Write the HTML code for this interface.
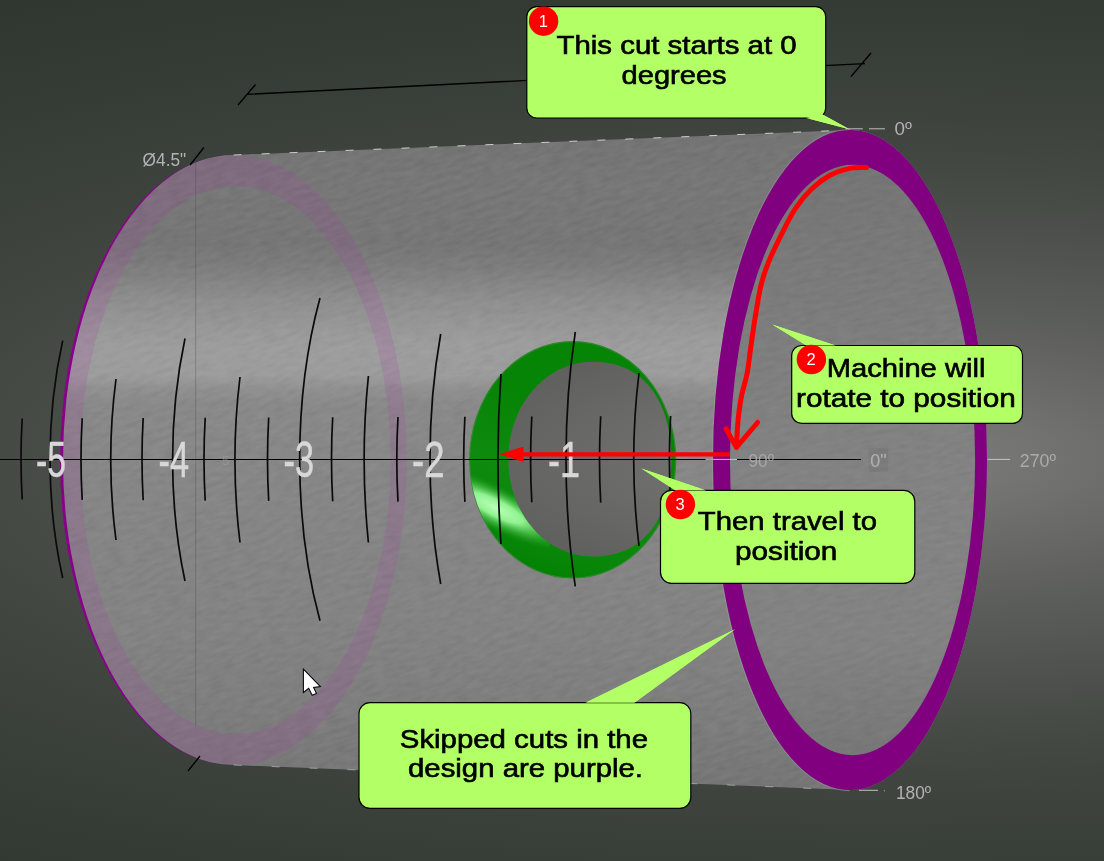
<!DOCTYPE html>
<html><head><meta charset="utf-8"><title>Cut sequence</title><style>html,body{margin:0;padding:0;background:#3c413e;overflow:hidden}svg{display:block}</style></head><body>
<svg width="1104" height="861" viewBox="0 0 1104 861" font-family="'Liberation Sans', sans-serif">
<defs>
<radialGradient id="bg" cx="0" cy="0" r="1" gradientUnits="userSpaceOnUse" gradientTransform="translate(875.24 459.57) scale(3736.1 1172.4)">
<stop offset="0.0000" stop-color="rgb(127,127,125)"/><stop offset="0.0222" stop-color="rgb(121,121,119)"/><stop offset="0.0444" stop-color="rgb(115,115,113)"/><stop offset="0.0667" stop-color="rgb(108,108,106)"/><stop offset="0.0889" stop-color="rgb(102,103,100)"/><stop offset="0.1111" stop-color="rgb(96,97,94)"/><stop offset="0.1333" stop-color="rgb(90,92,89)"/><stop offset="0.1556" stop-color="rgb(85,88,84)"/><stop offset="0.1778" stop-color="rgb(80,83,79)"/><stop offset="0.2000" stop-color="rgb(76,79,75)"/><stop offset="0.2222" stop-color="rgb(72,76,71)"/><stop offset="0.2556" stop-color="rgb(67,71,66)"/><stop offset="0.2889" stop-color="rgb(62,67,62)"/><stop offset="0.3222" stop-color="rgb(58,64,58)"/><stop offset="0.3556" stop-color="rgb(55,61,55)"/><stop offset="0.3889" stop-color="rgb(52,59,52)"/><stop offset="0.4222" stop-color="rgb(50,56,50)"/><stop offset="0.4556" stop-color="rgb(48,55,48)"/><stop offset="0.4889" stop-color="rgb(47,53,47)"/><stop offset="0.5222" stop-color="rgb(45,52,45)"/><stop offset="0.5556" stop-color="rgb(44,51,44)"/><stop offset="0.6111" stop-color="rgb(43,50,43)"/><stop offset="0.6667" stop-color="rgb(42,49,42)"/><stop offset="0.7222" stop-color="rgb(41,48,41)"/><stop offset="0.7778" stop-color="rgb(41,47,41)"/><stop offset="0.8333" stop-color="rgb(40,47,40)"/><stop offset="0.8889" stop-color="rgb(40,47,40)"/><stop offset="0.9444" stop-color="rgb(40,47,40)"/><stop offset="1.0000" stop-color="rgb(40,46,40)"/>
</radialGradient>
<linearGradient id="body" x1="0" y1="130" x2="0" y2="790" gradientUnits="userSpaceOnUse">
<stop offset="0.0000" stop-color="#747474"/><stop offset="0.0379" stop-color="#757575"/><stop offset="0.0803" stop-color="#777777"/><stop offset="0.1742" stop-color="#767676"/><stop offset="0.2121" stop-color="#7e7e7e"/><stop offset="0.2576" stop-color="#8e8e8e"/><stop offset="0.3106" stop-color="#9a9a9a"/><stop offset="0.3333" stop-color="#9d9d9d"/><stop offset="0.3712" stop-color="#9c9c9c"/><stop offset="0.3939" stop-color="#8f8f8f"/><stop offset="0.4152" stop-color="#898989"/><stop offset="0.5000" stop-color="#878787"/><stop offset="0.5970" stop-color="#858585"/><stop offset="0.7485" stop-color="#838383"/><stop offset="0.8697" stop-color="#7e7e7e"/><stop offset="0.9621" stop-color="#787878"/><stop offset="1.0000" stop-color="#757575"/>
</linearGradient>
<linearGradient id="face" x1="0" y1="130" x2="0" y2="790" gradientUnits="userSpaceOnUse">
<stop offset="0.0000" stop-color="#747474"/><stop offset="0.1061" stop-color="#767676"/><stop offset="0.1879" stop-color="#797979"/><stop offset="0.3333" stop-color="#7e7e7e"/><stop offset="0.5000" stop-color="#828282"/><stop offset="0.6515" stop-color="#838383"/><stop offset="0.7788" stop-color="#828282"/><stop offset="0.8939" stop-color="#7a7a7a"/><stop offset="1.0000" stop-color="#747474"/>
</linearGradient>
<linearGradient id="faceh" x1="760" y1="0" x2="980" y2="0" gradientUnits="userSpaceOnUse"><stop offset="0" stop-color="#fff" stop-opacity="0.04"/><stop offset="0.5" stop-color="#000" stop-opacity="0"/><stop offset="1" stop-color="#000" stop-opacity="0.08"/></linearGradient>

<linearGradient id="grn" x1="540" y1="400" x2="480" y2="560" gradientUnits="userSpaceOnUse">
<stop offset="0" stop-color="#068406"/><stop offset="0.45" stop-color="#0e8b0e"/><stop offset="0.8" stop-color="#088608"/><stop offset="1" stop-color="#008000"/>
</linearGradient>
<radialGradient id="ghl" cx="0" cy="0" r="1" gradientUnits="userSpaceOnUse" gradientTransform="translate(496 508) rotate(27) scale(85 22)">
<stop offset="0" stop-color="#b8ffb8" stop-opacity="1"/><stop offset="0.35" stop-color="#98f898" stop-opacity="0.95"/><stop offset="0.7" stop-color="#40b840" stop-opacity="0.6"/><stop offset="1" stop-color="#189018" stop-opacity="0"/>
</radialGradient>
<filter id="noise" x="0" y="0" width="100%" height="100%" color-interpolation-filters="sRGB">
<feTurbulence type="fractalNoise" baseFrequency="0.07 0.22" numOctaves="3" seed="11" result="n"/>
<feColorMatrix type="matrix" values="1.5 0 0 0 -0.25  1.5 0 0 0 -0.25  1.5 0 0 0 -0.25  0 0 0 0 1"/>
</filter>
<clipPath id="cyl"><path d="M233.6 155L850 130A137 330 0 0 1 850 790L233.6 765A173.1 305 0 0 1 233.6 155Z"/></clipPath>
</defs>
<style>
.ct{font-size:25px;fill:#000;stroke:#000;stroke-width:0.6px}
.ax{font-size:49.5px;fill:#d8d8d8;stroke:#d8d8d8;stroke-width:0.5px}
.dg{font-size:18.6px;fill:#b2b2b2}
</style>
<rect width="1104" height="861" fill="url(#bg)"/>

<path d="M247.5 94.3L865 63.6M238 105L255.5 84.5M851 76.5L871 53" stroke="#000" stroke-width="1.3" fill="none"/>
<path d="M233.6 155L850 130A137 330 0 0 1 850 790L233.6 765A173.1 305 0 0 1 233.6 155Z" fill="url(#body)"/>
<g clip-path="url(#cyl)" style="mix-blend-mode:soft-light"><rect x="-200" y="-100" width="1500" height="1200" filter="url(#noise)" opacity="0.085" transform="rotate(-18 550 460)"/></g>
<path d="M60.5 460A173.1 305 0 1 1 406.7 460A173.1 305 0 1 1 60.5 460ZM80.1 460A155.4 274 0 1 0 390.9 460A155.4 274 0 1 0 80.1 460Z" fill="#a838a8" fill-opacity="0.165" fill-rule="evenodd"/>
<path d="M233.6 154.6A173.6 305.4 0 0 0 233.6 765.4A170.6 305.4 0 0 1 233.6 154.6Z" fill="#88008a"/>
<path d="M195.7 160V726" stroke="#444" stroke-width="0.8" opacity="0.4"/>
<path d="M233.6 155L850 130" stroke="#e8e8e8" stroke-width="1" stroke-dasharray="8 20" opacity="0.8"/>
<path d="M233.6 765L850 790" stroke="#e0e0e0" stroke-width="1" stroke-dasharray="8 30" opacity="0.5"/>
<path d="M469.7 459.8A103 118.2 0 1 1 675.7 459.8A103 118.2 0 1 1 469.7 459.8Z" fill="url(#grn)" stroke="#2f872f" stroke-width="1.2"/>
<clipPath id="gring"><path d="M469.7 459.8A103 118.2 0 1 1 675.7 459.8A103 118.2 0 1 1 469.7 459.8ZM592.8 361.7C644 361.7 671.3 401 671.3 459.2C671.3 518 644 556.6 592.8 556.6C546 556.6 508.3 513 508.3 459.2C508.3 405 546 361.7 592.8 361.7Z" clip-rule="evenodd"/></clipPath>
<g clip-path="url(#gring)"><rect x="460" y="440" width="90" height="130" fill="url(#ghl)"/></g>
<path d="M592.8 361.7C644 361.7 671.3 401 671.3 459.2C671.3 518 644 556.6 592.8 556.6C546 556.6 508.3 513 508.3 459.2C508.3 405 546 361.7 592.8 361.7Z" fill="url(#bg)"/>
<path d="M0 459.5H861" stroke="#000" stroke-width="1.1"/>
<path d="M62.7 340.6A160.6 304.5 0 0 0 62.7 578.0M185.0 338.5A154.9 309.2 0 0 0 185.0 581.0M320.0 298.0A143.0 314.1 0 0 0 320.0 620.7M440.7 334.0A133.9 319.1 0 0 0 440.7 584.0M575.3 332.0A116.1 324.4 0 0 0 575.3 586.4M116.0 379.0A148.5 306.9 0 0 0 116.0 540.0M240.0 377.0A139.3 311.6 0 0 0 240.0 542.5M368.4 376.0A119.4 316.6 0 0 0 368.4 542.5M501.0 374.0A84.4 321.7 0 0 0 501.0 544.0M639.0 373.0A145.9 327.0 0 0 0 639.0 546.0M22.2 418.5A134.1 303.4 0 0 0 22.2 499.5M82.2 418.2A134.2 305.7 0 0 0 82.2 499.9M143.2 418.0A134.2 308.1 0 0 0 143.2 500.2M205.2 417.8A134.4 310.5 0 0 0 205.2 500.6M268.7 417.5A134.5 312.9 0 0 0 268.7 500.9M332.7 417.2A134.7 315.3 0 0 0 332.7 501.2M398.0 417.0A134.9 317.9 0 0 0 398.0 501.6M464.9 416.8A135.2 320.4 0 0 0 464.9 501.9M531.8 416.5A135.4 323.0 0 0 0 531.8 502.3M600.7 416.2A135.8 325.6 0 0 0 600.7 502.6M670.6 416.0A136.1 328.3 0 0 0 670.6 503.0" stroke="#0a0a0a" stroke-width="1.7" fill="none"/>
<text x="36" y="476.6" textLength="30" lengthAdjust="spacingAndGlyphs" class="ax">-5</text>
<text x="158.5" y="476.6" textLength="30.5" lengthAdjust="spacingAndGlyphs" class="ax">-4</text>
<text x="283.5" y="476.6" textLength="30.5" lengthAdjust="spacingAndGlyphs" class="ax">-3</text>
<text x="412" y="476.6" textLength="32.5" lengthAdjust="spacingAndGlyphs" class="ax">-2</text>
<text x="548" y="476.6" textLength="32" lengthAdjust="spacingAndGlyphs" class="ax">-1</text>
<path d="M850 130A137 330 0 0 0 850 790" fill="none" stroke="#b0b0b0" stroke-width="2.4" opacity="0.3"/>
<ellipse cx="850" cy="460" rx="137" ry="330" fill="url(#face)"/>
<clipPath id="fc"><ellipse cx="852.55" cy="460" rx="122.55" ry="295"/></clipPath><g clip-path="url(#fc)" style="mix-blend-mode:soft-light"><rect x="-200" y="-100" width="1500" height="1200" filter="url(#noise)" opacity="0.07" transform="rotate(-12 550 460)"/></g>
<path d="M713 460A137 330 0 1 1 987 460A137 330 0 1 1 713 460ZM730.0 460A122.55 295 0 1 0 975.0999999999999 460A122.55 295 0 1 0 730.0 460Z" fill="#800080" fill-rule="evenodd"/>
<path d="M705.5 459.4H737M987.5 459.4H1010M845.4 128.8H862.8M869 128.8H885M859 790.3H878M883.8 790.8h1" stroke="#d4d4d4" stroke-width="1" opacity="0.85"/>
<path d="M737 459.5H861" stroke="#000" stroke-width="1.1"/>
<rect x="868.6" y="448" width="19.6" height="24" fill="#000" opacity="0.045"/>
<text x="748.5" y="466.6" class="dg" textLength="25.5" lengthAdjust="spacingAndGlyphs" opacity="0.8">90º</text>
<text x="870.2" y="466.6" class="dg" textLength="16.4" lengthAdjust="spacingAndGlyphs" opacity="1" fill="#c4c4c4">0"</text>
<text x="1019.8" y="466.6" class="dg" textLength="36.2" lengthAdjust="spacingAndGlyphs" opacity="0.9">270º</text>
<text x="894.6" y="135.4" class="dg" textLength="17.4" lengthAdjust="spacingAndGlyphs" opacity="1">0º</text>
<text x="896" y="799.1" class="dg" textLength="35.2" lengthAdjust="spacingAndGlyphs" opacity="1">180º</text>
<text x="142.6" y="166.2" class="dg" textLength="43.6" lengthAdjust="spacingAndGlyphs" opacity="1" fill="#bcbcbc">Ø4.5"</text>
<path d="M190.1 165L203.9 147.5M188 771L200 756" stroke="#000" stroke-width="1.3"/>
<text x="222" y="465" font-size="13" fill="#a8a8a8" opacity="0.45">5</text>
<path d="M730 454.3H520" stroke="#ff0000" stroke-width="4.2"/><polygon points="499.5,454.3 523.5,446.6 523.5,462" fill="#ff0000"/>
<path d="M866.5 167.5C863.5 167.7 854.8 167.3 848.7 168.6C842.6 169.9 836.2 171.9 830 175.3C823.8 178.7 817.4 183.3 811.5 189C805.6 194.7 800.0 201.4 794.8 209.5C789.5 217.6 784.3 228.7 780 237.4C775.7 246.1 771.9 253.8 768.8 261.5C765.7 269.2 763.5 275.1 761.3 283.8C759.1 292.5 757.5 303.7 755.8 313.6C754.1 323.5 752.7 333.4 751.3 343.3C749.9 353.2 748.8 364.3 747.2 373C745.6 381.7 743.1 387.9 741.6 395.4C740.1 402.8 739.2 409.0 738.3 417.7C737.4 426.4 736.7 442.4 736.4 447.4" stroke="#ff0000" stroke-width="5" fill="none" stroke-linecap="round" stroke-linejoin="round"/>
<path d="M726 428.8L736.4 447.4L757.6 422.5" stroke="#ff0000" stroke-width="5" fill="none" stroke-linecap="round" stroke-linejoin="round"/>
<polygon points="806.3,118 849.4,129.2 821.6,114" fill="#b2ff66"/><rect x="526.8" y="6.7" width="298.9000000000001" height="111.3" rx="10" ry="10" fill="#b2ff66" stroke="#000" stroke-width="1.2"/><polygon points="806.3,118 849.4,129.2 821.6,114" fill="#b2ff66"/>
<circle cx="543.6" cy="21.2" r="14.7" fill="#ff0000"/><text x="543.3000000000001" y="27.1" font-size="16.5" fill="#fff" text-anchor="middle">1</text>
<text x="556.5" y="54.3" textLength="240.1" lengthAdjust="spacingAndGlyphs" class="ct">This cut starts at 0</text>
<text x="621.6" y="83.8" textLength="105.0" lengthAdjust="spacingAndGlyphs" class="ct">degrees</text>
<polygon points="806.4,345.6 772.2,324.4 835.6,345.6" fill="#b2ff66"/><rect x="791.7" y="345.5" width="230.79999999999995" height="77.89999999999998" rx="10" ry="10" fill="#b2ff66" stroke="#000" stroke-width="1.2"/><polygon points="806.4,345.6 772.2,324.4 835.6,345.6" fill="#b2ff66"/>
<circle cx="811.4" cy="359.5" r="14.7" fill="#ff0000"/><text x="811.1" y="365.4" font-size="16.5" fill="#fff" text-anchor="middle">2</text>
<text x="826.7" y="377.4" textLength="158.7" lengthAdjust="spacingAndGlyphs" class="ct">Machine will</text>
<text x="796" y="407.4" textLength="219.8" lengthAdjust="spacingAndGlyphs" class="ct">rotate to position</text>
<polygon points="675.6,490.6 641.4,468.4 706.2,490.6" fill="#b2ff66"/><rect x="660.5" y="490.4" width="254.29999999999995" height="92.89999999999998" rx="11" ry="11" fill="#b2ff66" stroke="#000" stroke-width="1.2"/><polygon points="675.6,490.6 641.4,468.4 706.2,490.6" fill="#b2ff66"/>
<circle cx="680.4" cy="504.5" r="14.7" fill="#ff0000"/><text x="680.1" y="510.4" font-size="16.5" fill="#fff" text-anchor="middle">3</text>
<text x="697.8" y="529.6" textLength="179.2" lengthAdjust="spacingAndGlyphs" class="ct">Then travel to</text>
<text x="735" y="560.2" textLength="102.4" lengthAdjust="spacingAndGlyphs" class="ct">position</text>
<polygon points="585.5,702.8 735,629.3 634.4,702.8" fill="#b2ff66"/><rect x="359" y="702.6" width="331.79999999999995" height="105.69999999999993" rx="11" ry="11" fill="#b2ff66" stroke="#000" stroke-width="1.2"/><polygon points="585.5,702.8 735,629.3 634.4,702.8" fill="#b2ff66"/>
<text x="399.8" y="747.6" textLength="248.2" lengthAdjust="spacingAndGlyphs" class="ct">Skipped cuts in the</text>
<text x="408" y="777.4" textLength="235.0" lengthAdjust="spacingAndGlyphs" class="ct">design are purple.</text>
<path d="M303.4 669.2V692.5L308.7 688.3L312.2 695.2L316.5 693.5L313.6 687.4L320.4 686.6Z" fill="#fff" stroke="#0a0a14" stroke-width="1.1" stroke-linejoin="miter"/>
</svg>
</body></html>
